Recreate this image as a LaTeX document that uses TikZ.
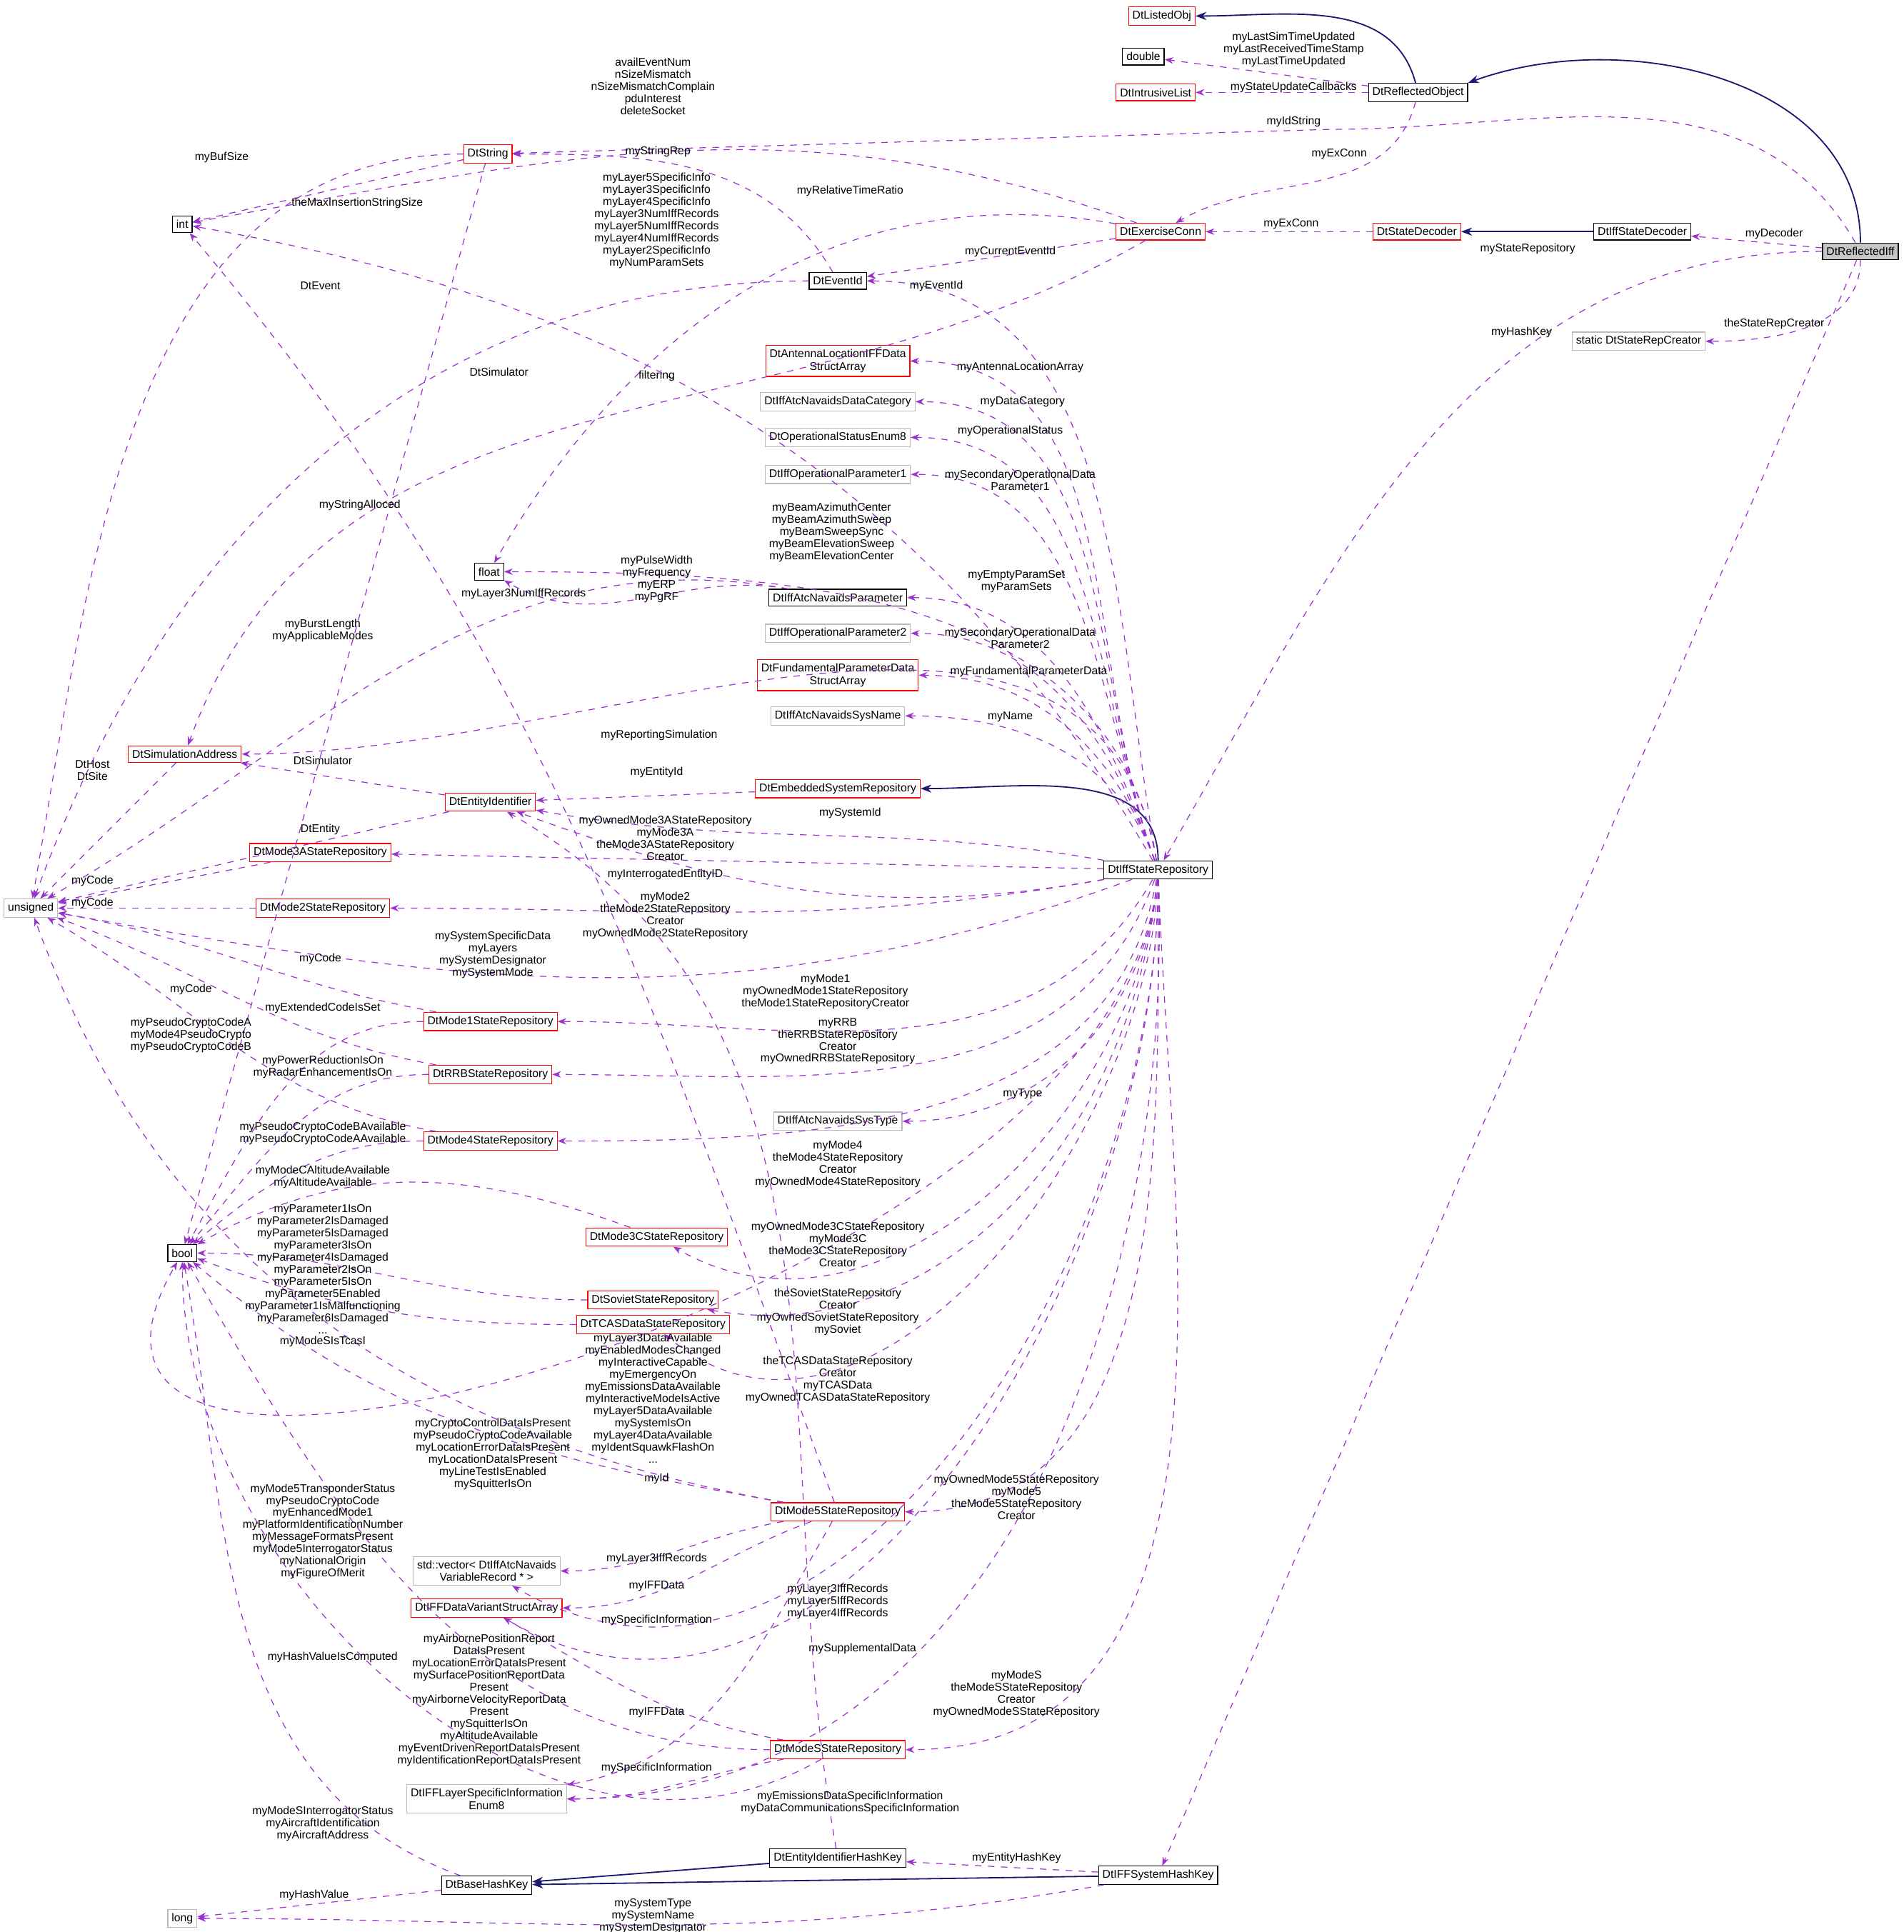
\documentclass[tikz,border=0pt]{standalone}
\usepackage{fontspec}
\setmainfont{Liberation Sans}
\usetikzlibrary{arrows.meta,positioning}
\definecolor{dep}{HTML}{9A32CD}
\definecolor{inh}{HTML}{191970}
\begin{document}
\begin{tikzpicture}[x={(0.02cm,0)},y={(0,-0.02cm)},
		cls/.style={draw=black,fill=white,font=\fontsize{5.2}{5.8}\selectfont,align=center,inner sep=1.8pt,minimum height=0.27cm},
		rcls/.style={cls,draw=red},
		gcls/.style={cls,draw=gray!55},
		lab/.style={font=\fontsize{5.2}{5.6}\selectfont,align=center,inner sep=0pt},
		dep/.style={-{Stealth[length=4pt]},dashed,draw=dep,thin},
		inh/.style={-{Stealth[length=5pt]},draw=inh,semithick}
		]
		\useasboundingbox (0,0) rectangle (1545,1568);
		
		% --- classes
		\node[rcls] (listed) at (943,13) {DtListedObj};
		\node[cls] (double) at (928,46) {double};
		\node[rcls] (intrus) at (938,75) {DtIntrusiveList};
		\node[cls] (refobj) at (1151,75) {DtReflectedObject};
		\node[rcls] (string) at (396,125) {DtString};
		\node[cls] (int) at (148,182) {int};
		\node[rcls] (exconn) at (942,188) {DtExerciseConn};
		\node[rcls] (decoder) at (1150,188) {DtStateDecoder};
		\node[cls] (iffdec) at (1333,188) {DtIffStateDecoder};
		\node[cls,fill=gray!45] (refiff) at (1510,204) {DtReflectedIff};
		\node[cls] (eventid) at (680,228) {DtEventId};
		\node[gcls] (creator) at (1330,277) {static DtStateRepCreator};
		\node[rcls] (antenna) at (680,293) {DtAntennaLocationIFFData\\StructArray};
		\node[gcls] (datacat) at (680,326) {DtIffAtcNavaidsDataCategory};
		\node[gcls] (opstat) at (680,355) {DtOperationalStatusEnum8};
		\node[gcls] (oppar1) at (680,385) {DtIffOperationalParameter1};
		\node[cls] (float) at (397,464) {float};
		\node[cls] (navpar) at (680,485) {DtIffAtcNavaidsParameter};
		\node[gcls] (oppar2) at (680,514) {DtIffOperationalParameter2};
		\node[rcls] (fundam) at (680,548) {DtFundamentalParameterData\\StructArray};
		\node[gcls] (sysname) at (680,581) {DtIffAtcNavaidsSysName};
		\node[rcls] (simaddr) at (150,612) {DtSimulationAddress};
		\node[rcls] (embed) at (680,640) {DtEmbeddedSystemRepository};
		\node[rcls] (entity) at (398,651) {DtEntityIdentifier};
		\node[rcls] (mode3a) at (260,692) {DtMode3AStateRepository};
		\node[cls] (iffrepo) at (940,706) {DtIffStateRepository};
		\node[gcls] (unsigned) at (25,737) {unsigned};
		\node[rcls] (mode2) at (262,737) {DtMode2StateRepository};
		\node[rcls] (mode1) at (398,829) {DtMode1StateRepository};
		\node[rcls] (rrb) at (398,872) {DtRRBStateRepository};
		\node[gcls] (systype) at (680,910) {DtIffAtcNavaidsSysType};
		\node[rcls] (mode4) at (398,926) {DtMode4StateRepository};
		\node[cls] (bool) at (148,1017) {bool};
		\node[rcls] (mode3c) at (533,1004) {DtMode3CStateRepository};
		\node[rcls] (soviet) at (530,1055) {DtSovietStateRepository};
		\node[rcls] (tcas) at (530,1075) {DtTCASDataStateRepository};
		\node[rcls] (mode5) at (680,1227) {DtMode5StateRepository};
		\node[gcls] (vector) at (395,1275) {std::vector< DtIffAtcNavaids\\VariableRecord * >};
		\node[rcls] (variant) at (395,1305) {DtIFFDataVariantStructArray};
		\node[rcls] (modes) at (680,1420) {DtModeSStateRepository};
		\node[gcls] (layer) at (395,1460) {DtIFFLayerSpecificInformation\\Enum8};
		\node[cls] (enthash) at (680,1508) {DtEntityIdentifierHashKey};
		\node[cls] (syshash) at (940,1522) {DtIFFSystemHashKey};
		\node[cls] (basehash) at (395,1530) {DtBaseHashKey};
		\node[gcls] (long) at (148,1557) {long};
		
		% --- inheritance
		\draw[inh] (refobj) to[out=105,in=0] (listed);
		\draw[inh] (refiff) to[out=90,in=20] (refobj.north east);
		\draw[inh] (iffdec) -- (decoder);
		\draw[inh] (iffrepo) to[out=90,in=0] (embed);
		\draw[inh] (enthash) -- (basehash);
		\draw[inh] (syshash) -- (basehash);
		
		% --- members
		\draw[dep] (refobj) -- (double);
		\draw[dep] (refobj) -- (intrus);
		\draw[dep] (refobj) to[out=-105,in=30] (exconn);
		\draw[dep] (refiff) to[out=120,in=0] (1080,105) -- (string);
		\draw[dep] (decoder) -- (exconn);
		\draw[dep] (refiff) -- (iffdec);
		\draw[dep] (refiff) to[out=180,in=60] (iffrepo);
		\draw[dep] (refiff) -- (syshash);
		\draw[dep] (refiff) to[out=-90,in=0] (creator);
		\draw[dep] (exconn) to[out=160,in=10] (int);
		\draw[dep] (string) to[out=180,in=80] (unsigned);
		\draw[dep] (string) -- (int);
		\draw[dep] (string) -- (bool);
		\draw[dep] (eventid) to[out=120,in=0] (string);
		\draw[dep] (exconn) -- (eventid);
		\draw[dep] (exconn) to[out=170,in=60] (float);
		\draw[dep] (exconn) to[out=-150,in=70] (simaddr);
		\draw[dep] (eventid) to[out=180,in=70] (unsigned);
		\draw[dep] (iffrepo) to[out=120,in=-10] (int);
		\draw[dep] (iffrepo) to[out=100,in=0] (eventid);
		\draw[dep] (iffrepo) to[out=110,in=0] (antenna);
		\draw[dep] (iffrepo) to[out=110,in=0] (datacat);
		\draw[dep] (iffrepo) to[out=110,in=0] (opstat);
		\draw[dep] (iffrepo) to[out=110,in=0] (oppar1);
		\draw[dep] (iffrepo) to[out=100,in=0] (float);
		\draw[dep] (iffrepo) to[out=110,in=0] (navpar);
		\draw[dep] (iffrepo) to[out=110,in=0] (oppar2);
		\draw[dep] (iffrepo) to[out=110,in=0] (fundam);
		\draw[dep] (iffrepo) to[out=110,in=0] (sysname);
		\draw[dep] (iffrepo) to[out=100,in=0] (simaddr);
		\draw[dep] (iffrepo) to[out=170,in=-10] (entity);
		\draw[dep] (iffrepo) -- (mode3a);
		\draw[dep] (iffrepo) to[out=190,in=-20] (entity);
		\draw[dep] (iffrepo) to[out=190,in=0] (mode2);
		\draw[dep] (iffrepo) to[out=200,in=-10] (unsigned);
		\draw[dep] (iffrepo) to[out=-120,in=0] (mode1);
		\draw[dep] (iffrepo) to[out=-110,in=0] (rrb);
		\draw[dep] (iffrepo) to[out=-95,in=0] (systype);
		\draw[dep] (iffrepo) to[out=-100,in=0] (mode4);
		\draw[dep] (iffrepo) to[out=-95,in=-30] (mode3c);
		\draw[dep] (iffrepo) to[out=-95,in=-10] (soviet);
		\draw[dep] (iffrepo) to[out=-92,in=-40] (tcas);
		\draw[dep] (iffrepo) to[out=-95,in=-120] (bool);
		\draw[dep] (iffrepo) to[out=-90,in=0] (mode5);
		\draw[dep] (iffrepo) to[out=-90,in=-30] (vector);
		\draw[dep] (iffrepo) to[out=-90,in=-30] (variant);
		\draw[dep] (iffrepo) to[out=-88,in=0] (modes);
		\draw[dep] (iffrepo) to[out=-88,in=0] (layer);
		\draw[dep] (syshash) -- (enthash);
		\draw[dep] (syshash) to[out=190,in=0] (long);
		\draw[dep] (basehash) -- (long);
		\draw[dep] (basehash) to[out=160,in=-80] (bool);
		\draw[dep] (navpar) to[out=170,in=-30] (float);
		\draw[dep] (navpar) to[out=170,in=30] (unsigned);
		\draw[dep] (simaddr) -- (unsigned);
		\draw[dep] (entity) -- (simaddr);
		\draw[dep] (entity) -- (unsigned);
		\draw[dep] (embed) -- (entity);
		\draw[dep] (mode3a) -- (unsigned);
		\draw[dep] (mode2) -- (unsigned);
		\draw[dep] (mode1) to[out=170,in=-10] (unsigned);
		\draw[dep] (mode1) to[out=180,in=60] (bool);
		\draw[dep] (rrb) to[out=170,in=-20] (unsigned);
		\draw[dep] (rrb) to[out=180,in=50] (bool);
		\draw[dep] (mode4) to[out=170,in=-30] (unsigned);
		\draw[dep] (mode4) to[out=180,in=40] (bool);
		\draw[dep] (mode3c) to[out=160,in=30] (bool);
		\draw[dep] (soviet) to[out=180,in=0] (bool);
		\draw[dep] (tcas) to[out=180,in=-20] (bool);
		\draw[dep] (mode5) to[out=170,in=-40] (bool);
		\draw[dep] (mode5) to[out=170,in=-70] (unsigned);
		\draw[dep] (mode5) to[out=110,in=-50] (int);
		\draw[dep] (mode5) to[out=-170,in=0] (vector);
		\draw[dep] (mode5) to[out=-160,in=0] (variant);
		\draw[dep] (mode5) to[out=-120,in=10] (layer);
		\draw[dep] (modes) to[out=180,in=-60] (bool);
		\draw[dep] (modes) to[out=170,in=-30] (variant);
		\draw[dep] (modes) to[out=-170,in=0] (layer);
		\draw[dep] (modes) to[out=-150,in=-90] (bool);
		\draw[dep] (enthash) to[out=100,in=-30] (entity);
		
		% --- labels
		\node[lab] at (1050,40) {myLastSimTimeUpdated\\myLastReceivedTimeStamp\\myLastTimeUpdated};
		\node[lab] at (1050,71) {myStateUpdateCallbacks};
		\node[lab] at (1087,125) {myExConn};
		\node[lab] at (1050,99) {myIdString};
		\node[lab] at (1048,182) {myExConn};
		\node[lab] at (1440,190) {myDecoder};
		\node[lab] at (1240,202) {myStateRepository};
		\node[lab] at (1235,270) {myHashKey};
		\node[lab] at (1440,263) {theStateRepCreator};
		\node[lab] at (530,70) {availEventNum\\nSizeMismatch\\nSizeMismatchComplain\\pduInterest\\deleteSocket};
		\node[lab] at (180,128) {myBufSize};
		\node[lab] at (290,165) {theMaxInsertionStringSize};
		\node[lab] at (292,410) {myStringAlloced};
		\node[lab] at (534,123) {myStringRep};
		\node[lab] at (820,204) {myCurrentEventId};
		\node[lab] at (690,155) {myRelativeTimeRatio};
		\node[lab] at (533,305) {filtering};
		\node[lab] at (405,302) {DtSimulator};
		\node[lab] at (260,232) {DtEvent};
		\node[lab] at (533,179) {myLayer5SpecificInfo\\myLayer3SpecificInfo\\myLayer4SpecificInfo\\myLayer3NumIffRecords\\myLayer5NumIffRecords\\myLayer4NumIffRecords\\myLayer2SpecificInfo\\myNumParamSets};
		\node[lab] at (760,232) {myEventId};
		\node[lab] at (828,298) {myAntennaLocationArray};
		\node[lab] at (830,326) {myDataCategory};
		\node[lab] at (820,350) {myOperationalStatus};
		\node[lab] at (828,390) {mySecondaryOperationalData\\Parameter1};
		\node[lab] at (675,432) {myBeamAzimuthCenter\\myBeamAzimuthSweep\\myBeamSweepSync\\myBeamElevationSweep\\myBeamElevationCenter};
		\node[lab] at (825,472) {myEmptyParamSet\\myParamSets};
		\node[lab] at (828,518) {mySecondaryOperationalData\\Parameter2};
		\node[lab] at (835,545) {myFundamentalParameterData};
		\node[lab] at (820,582) {myName};
		\node[lab] at (535,597) {myReportingSimulation};
		\node[lab] at (690,660) {mySystemId};
		\node[lab] at (540,680) {myOwnedMode3AStateRepository\\myMode3A\\theMode3AStateRepository\\Creator};
		\node[lab] at (540,710) {myInterrogatedEntityID};
		\node[lab] at (540,743) {myMode2\\theMode2StateRepository\\Creator\\myOwnedMode2StateRepository};
		\node[lab] at (400,775) {mySystemSpecificData\\myLayers\\mySystemDesignator\\mySystemMode};
		\node[lab] at (670,805) {myMode1\\myOwnedMode1StateRepository\\theMode1StateRepositoryCreator};
		\node[lab] at (680,845) {myRRB\\theRRBStateRepository\\Creator\\myOwnedRRBStateRepository};
		\node[lab] at (830,888) {myType};
		\node[lab] at (680,945) {myMode4\\theMode4StateRepository\\Creator\\myOwnedMode4StateRepository};
		\node[lab] at (680,1010) {myOwnedMode3CStateRepository\\myMode3C\\theMode3CStateRepository\\Creator};
		\node[lab] at (680,1065) {theSovietStateRepository\\Creator\\myOwnedSovietStateRepository\\mySoviet};
		\node[lab] at (680,1120) {theTCASDataStateRepository\\Creator\\myTCASData\\myOwnedTCASDataStateRepository};
		\node[lab] at (825,1215) {myOwnedMode5StateRepository\\myMode5\\theMode5StateRepository\\Creator};
		\node[lab] at (680,1300) {myLayer3IffRecords\\myLayer5IffRecords\\myLayer4IffRecords};
		\node[lab] at (700,1338) {mySupplementalData};
		\node[lab] at (825,1375) {myModeS\\theModeSStateRepository\\Creator\\myOwnedModeSStateRepository};
		\node[lab] at (690,1463) {myEmissionsDataSpecificInformation\\myDataCommunicationsSpecificInformation};
		\node[lab] at (530,1135) {myLayer3DataAvailable\\myEnabledModesChanged\\myInteractiveCapable\\myEmergencyOn\\myEmissionsDataAvailable\\myInteractiveModeIsActive\\myLayer5DataAvailable\\mySystemIsOn\\myLayer4DataAvailable\\myIdentSquawkFlashOn\\...};
		\node[lab] at (825,1508) {myEntityHashKey};
		\node[lab] at (530,1555) {mySystemType\\mySystemName\\mySystemDesignator};
		\node[lab] at (255,1538) {myHashValue};
		\node[lab] at (270,1345) {myHashValueIsComputed};
		\node[lab] at (533,470) {myPulseWidth\\myFrequency\\myERP\\myPgRF};
		\node[lab] at (425,482) {myLayer3NumIffRecords};
		\node[lab] at (262,512) {myBurstLength\\myApplicableModes};
		\node[lab] at (75,625) {DtHost\\DtSite};
		\node[lab] at (262,617) {DtSimulator};
		\node[lab] at (260,673) {DtEntity};
		\node[lab] at (533,627) {myEntityId};
		\node[lab] at (75,715) {myCode};
		\node[lab] at (75,733) {myCode};
		\node[lab] at (260,778) {myCode};
		\node[lab] at (262,818) {myExtendedCodeIsSet};
		\node[lab] at (155,803) {myCode};
		\node[lab] at (262,866) {myPowerReductionIsOn\\myRadarEnhancementIsOn};
		\node[lab] at (155,840) {myPseudoCryptoCodeA\\myMode4PseudoCrypto\\myPseudoCryptoCodeB};
		\node[lab] at (262,920) {myPseudoCryptoCodeBAvailable\\myPseudoCryptoCodeAAvailable};
		\node[lab] at (262,955) {myModeCAltitudeAvailable\\myAltitudeAvailable};
		\node[lab] at (262,1030) {myParameter1IsOn\\myParameter2IsDamaged\\myParameter5IsDamaged\\myParameter3IsOn\\myParameter4IsDamaged\\myParameter2IsOn\\myParameter5IsOn\\myParameter5Enabled\\myParameter1IsMalfunctioning\\myParameter6IsDamaged\\...};
		\node[lab] at (262,1089) {myModeSIsTcasI};
		\node[lab] at (400,1180) {myCryptoControlDataIsPresent\\myPseudoCryptoCodeAvailable\\myLocationErrorDataIsPresent\\myLocationDataIsPresent\\myLineTestIsEnabled\\mySquitterIsOn};
		\node[lab] at (533,1200) {myId};
		\node[lab] at (262,1243) {myMode5TransponderStatus\\myPseudoCryptoCode\\myEnhancedMode1\\myPlatformIdentificationNumber\\myMessageFormatsPresent\\myMode5InterrogatorStatus\\myNationalOrigin\\myFigureOfMerit};
		\node[lab] at (533,1265) {myLayer3IffRecords};
		\node[lab] at (533,1287) {myIFFData};
		\node[lab] at (533,1315) {mySpecificInformation};
		\node[lab] at (397,1380) {myAirbornePositionReport\\DataIsPresent\\myLocationErrorDataIsPresent\\mySurfacePositionReportData\\Present\\myAirborneVelocityReportData\\Present\\mySquitterIsOn\\myAltitudeAvailable\\myEventDrivenReportDataIsPresent\\myIdentificationReportDataIsPresent};
		\node[lab] at (533,1390) {myIFFData};
		\node[lab] at (533,1435) {mySpecificInformation};
		\node[lab] at (262,1480) {myModeSInterrogatorStatus\\myAircraftIdentification\\myAircraftAddress};
		
	\end{tikzpicture}
\end{document}
